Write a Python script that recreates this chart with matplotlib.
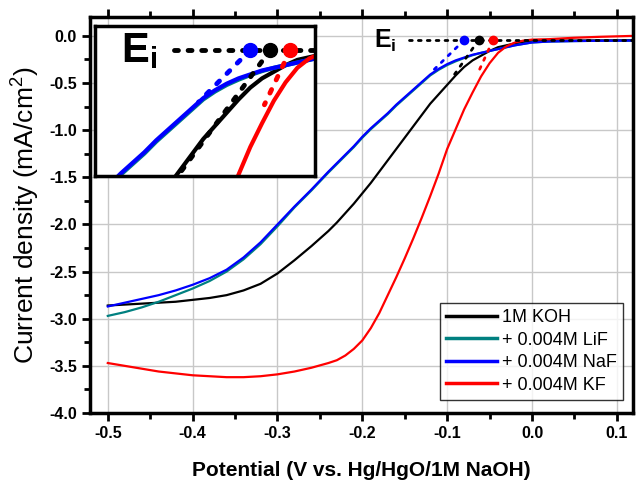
import matplotlib
matplotlib.use('Agg')
import matplotlib.pyplot as plt
from matplotlib.ticker import MultipleLocator

plt.rcParams['font.family'] = ['Liberation Sans', 'DejaVu Sans']
plt.rcParams['mathtext.fontset'] = 'custom'
plt.rcParams['mathtext.rm'] = 'Liberation Sans'
plt.rcParams['mathtext.bf'] = 'Liberation Sans:bold'
plt.rcParams['axes.unicode_minus'] = False

# LSV data
potential = [-0.50, -0.48, -0.46, -0.44, -0.42, -0.40, -0.38, -0.36, -0.34, -0.32,
             -0.30, -0.28, -0.26, -0.24, -0.23, -0.22, -0.21, -0.20, -0.19, -0.18,
             -0.17, -0.16, -0.15, -0.14, -0.13, -0.12, -0.11, -0.10, -0.09, -0.08,
             -0.07, -0.06, -0.05, -0.04, -0.03, -0.02, -0.01, 0.00, 0.02, 0.05,
             0.08, 0.12]
koh = [-2.86, -2.85, -2.84, -2.83, -2.82, -2.80, -2.78, -2.75, -2.70, -2.63,
       -2.52, -2.38, -2.23, -2.07, -1.98, -1.88, -1.78, -1.67, -1.56, -1.44,
       -1.32, -1.20, -1.08, -0.96, -0.84, -0.72, -0.62, -0.52, -0.42, -0.33,
       -0.26, -0.21, -0.16, -0.12, -0.10, -0.08, -0.065, -0.055, -0.05, -0.05,
       -0.048, -0.045]
lif = [-2.97, -2.93, -2.88, -2.82, -2.75, -2.68, -2.60, -2.50, -2.37, -2.21,
       -2.02, -1.82, -1.64, -1.45, -1.36, -1.27, -1.18, -1.08, -0.99, -0.91,
       -0.83, -0.74, -0.66, -0.58, -0.50, -0.42, -0.36, -0.31, -0.27, -0.235,
       -0.205, -0.18, -0.16, -0.14, -0.12, -0.10, -0.085, -0.07, -0.06, -0.055,
       -0.052, -0.05]
naf = [-2.87, -2.83, -2.79, -2.75, -2.70, -2.64, -2.57, -2.48, -2.35, -2.19,
       -2.00, -1.81, -1.63, -1.44, -1.35, -1.26, -1.17, -1.07, -0.98, -0.90,
       -0.82, -0.73, -0.65, -0.57, -0.49, -0.41, -0.35, -0.30, -0.26, -0.23,
       -0.20, -0.18, -0.16, -0.14, -0.12, -0.10, -0.085, -0.07, -0.06, -0.055,
       -0.052, -0.05]
kf = [-3.47, -3.50, -3.53, -3.56, -3.58, -3.60, -3.61, -3.62, -3.62, -3.61,
      -3.59, -3.56, -3.52, -3.47, -3.44, -3.39, -3.32, -3.23, -3.10, -2.94,
      -2.75, -2.56, -2.36, -2.15, -1.93, -1.70, -1.46, -1.20, -0.99, -0.78,
      -0.60, -0.43, -0.29, -0.18, -0.11, -0.07, -0.05, -0.04, -0.035, -0.02,
      -0.01, 0.0]

labels = ['1M KOH', '+ 0.004M LiF', '+ 0.004M NaF', '+ 0.004M KF']
colors = ['black', '#008080', '#0000ff', '#ff0000']
series = [koh, lif, naf, kf]

# onset potentials (tangent meets baseline)
baseline = -0.045
baseline_start = -0.145
onset_names = ['NaF', 'KOH', 'KF']
onset_colors = ['#0000ff', 'black', '#ff0000']
onset_x = [-0.080, -0.063, -0.046]
tangent_end_x = [-0.118, -0.093, -0.063]
tangent_end_y = [-0.38, -0.43, -0.38]
inset_tangent_end_x = [-0.124, -0.140, -0.068]
inset_tangent_end_y = [-0.44, -0.98, -0.46]

fig = plt.figure(figsize=(6.4, 4.86), dpi=100)
ax = fig.add_axes([0.1406, 0.1502, 0.8484, 0.8148])

for y, c, lab in zip(series, colors, labels):
    ax.plot(potential, y, color=c, lw=1.6, label=lab)

ax.plot([baseline_start, 0.12], [baseline, baseline], color='black', lw=2,
        ls=(0, (1, 2.2)), dash_capstyle='round', zorder=5)
for ox, ex, ey, c in zip(onset_x, tangent_end_x, tangent_end_y, onset_colors):
    ax.plot([ox, ex], [baseline, ey], color=c, lw=2, ls=(0, (1, 2.5)),
            dash_capstyle='round', zorder=5)
    ax.plot(ox, baseline, 'o', color=c, ms=6, zorder=6)
ax.text(-0.186, -0.05, r'$\mathbf{E_i}$', fontsize=18, va='center', ha='left')

ax.set_xlim(-0.521, 0.119)
ax.set_ylim(-4.0, 0.2)
ax.xaxis.set_major_locator(MultipleLocator(0.1))
ax.xaxis.set_minor_locator(MultipleLocator(0.05))
ax.yaxis.set_major_locator(MultipleLocator(0.5))
ax.yaxis.set_minor_locator(MultipleLocator(0.25))
ax.xaxis.set_major_formatter(lambda v, p: f'{v:.1f}')
ax.yaxis.set_major_formatter(lambda v, p: f'{v:.1f}')
ax.yaxis.set_ticks([v * 0.5 for v in range(-8, 1)])
ax.grid(True, which='major', color='#c8c8c8', lw=1)
ax.set_axisbelow(True)
ax.tick_params(which='both', direction='out', width=2, top=True, right=False,
               labelsize=11.5)
ax.tick_params(which='major', length=6)
ax.tick_params(which='minor', length=4)
for lab in ax.get_xticklabels() + ax.get_yticklabels():
    lab.set_fontweight('bold')
for s in ax.spines.values():
    s.set_linewidth(2.5)

ax.set_xlabel('Potential (V vs. Hg/HgO/1M NaOH)', fontsize=15, fontweight='bold',
              labelpad=14)
ax.set_ylabel('Current density (mA/cm$^2$)', fontsize=19, labelpad=6)

leg = ax.legend(loc='lower right', bbox_to_anchor=(0.982, 0.033), borderaxespad=0,
                fontsize=13, handlelength=2.8, labelspacing=0.3, handletextpad=0.3,
                borderpad=0.35, fancybox=False, frameon=True)
leg.get_frame().set_edgecolor('black')
leg.get_frame().set_linewidth(1)
for h in leg.get_lines():
    h.set_linewidth(2.5)

# zoomed inset of the onset region
axin = fig.add_axes([0.1484, 0.6379, 0.3438, 0.3086])
for y, c in zip(series, colors):
    axin.plot(potential, y, color=c, lw=3)
axin.plot([baseline_start, 0.0], [baseline, baseline], color='black', lw=3.5,
          ls=(0, (0.8, 2)), dash_capstyle='round', zorder=5)
for ox, ex, ey, c in zip(onset_x, inset_tangent_end_x, inset_tangent_end_y, onset_colors):
    axin.plot([ox, ex], [baseline, ey], color=c, lw=3.5, ls=(0, (0.8, 2.2)),
              dash_capstyle='round', zorder=5)
    axin.plot(ox, baseline, 'o', color=c, ms=10, zorder=6)
axin.text(0.12, 0.83, r'$\mathbf{E_i}$', fontsize=30, transform=axin.transAxes,
          va='center', ha='left')
axin.set_xlim(-0.212, -0.025)
axin.set_ylim(-1.0, 0.137)
axin.set_xticks([])
axin.set_yticks([])
for s in axin.spines.values():
    s.set_linewidth(2.5)

fig.savefig('out.png', dpi=100)
